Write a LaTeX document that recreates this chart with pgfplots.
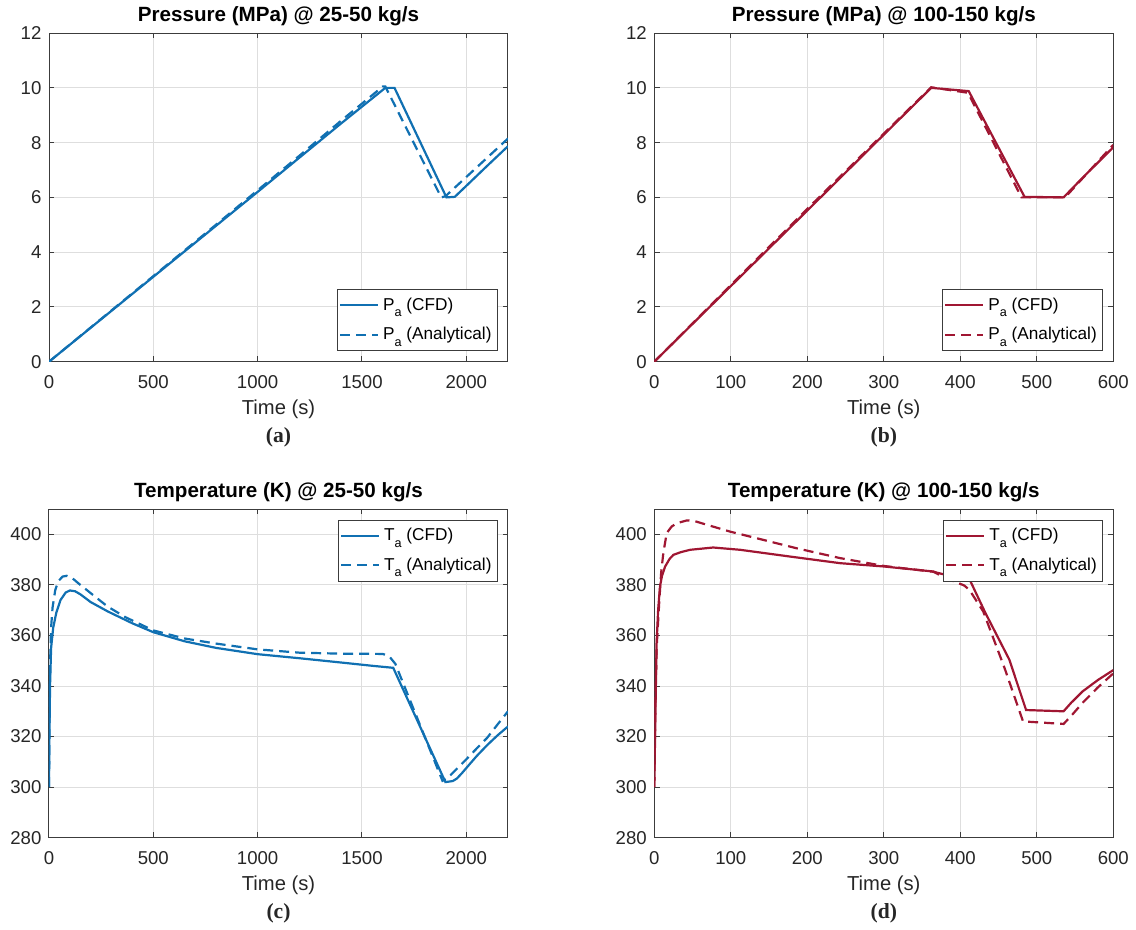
\documentclass[border=0pt]{standalone}
\usepackage{fontspec}
\setmainfont{Liberation Sans}
\newfontfamily\serifbf{Liberation Serif}
\usepackage{pgfplots}
\pgfplotsset{compat=1.18}

\definecolor{mblue}{RGB}{16,112,178}
\definecolor{mred}{RGB}{160,22,50}
\definecolor{gridc}{RGB}{222,222,222}
\definecolor{axc}{RGB}{60,60,60}
\definecolor{txc}{RGB}{38,38,38}

\newcommand{\sub}[1]{\raisebox{-0.38em}{\fontsize{6.3}{7}\selectfont #1}}

\pgfplotsset{
  every axis title shift=0pt,
  myaxis/.style={
    scale only axis, width=229.5pt, height=164.3pt,
    anchor=south west,
    axis line style={axc, line width=0.5pt},
    every tick/.style={axc, line width=0.5pt},
    major tick length=2.6pt,
    tick align=inside,
    grid=major,
    major grid style={gridc, line width=0.5pt},
    /pgf/number format/assume math mode=true,
    /pgf/number format/1000 sep={},
    tick label style={font=\fontsize{9.3}{11}\selectfont, text=txc},
    xticklabel style={anchor=center, yshift=-10pt},
    yticklabel style={anchor=east, inner sep=0pt, xshift=-3.6pt},
    title style={at={(0.5,1)}, anchor=center, yshift=8.4pt, font=\bfseries\fontsize{10.3}{12}\selectfont},
    xlabel style={at={(axis description cs:0.5,0)}, anchor=center, yshift=-23.8pt, font=\fontsize{10.1}{12}\selectfont, text=txc},
    xlabel={Time (s)},
    legend style={draw=axc, line width=0.5pt, fill=white, font=\fontsize{8.6}{10}\selectfont, text=black,
      inner xsep=0.8pt, inner ysep=2pt, row sep=3pt, cells={anchor=west, inner xsep=1pt}},
    legend image code/.code={\draw[#1] (0pt,0pt) -- (19pt,0pt);},
  },
  cfd/.style={line width=1.1pt, solid},
  ana/.style={line width=1.1pt, dash pattern=on 5pt off 3pt},
  legbot/.style={legend style={at={(1,0)}, anchor=south east, xshift=-5.2pt, yshift=5.3pt}},
  legtop/.style={legend style={at={(1,1)}, anchor=north east, xshift=-5.2pt, yshift=-5.3pt}},
  pres/.style={ymin=0, ymax=12, ytick={0,2,...,12}},
  temp/.style={ymin=280, ymax=410, ytick={280,300,...,400}},
  longx/.style={xmin=0, xmax=2200, xtick={0,500,...,2000}},
  shortx/.style={xmin=0, xmax=600, xtick={0,100,...,600}},
}

\begin{document}
\begin{tikzpicture}
\path[use as bounding box] (0,0) rectangle (568pt,465pt);

% (a)
\begin{axis}[myaxis, pres, longx, legbot, name=pa, at={(24.5pt,284.15pt)},
  title={Pressure (MPa) @ 25-50 kg/s}]
\addplot[mblue, cfd] coordinates {(0,0) (200,1.24) (400,2.48) (600,3.72) (800,4.96) (1000,6.2) (1200,7.45) (1400,8.7) (1612,10.0) (1656,10.0) (1905,6.0) (1945,6.02) (2000,6.42) (2100,7.15) (2200,7.87)};
\addlegendentry{P\sub{a} (CFD)}
\addplot[mblue, ana] coordinates {(0,0) (400,2.5) (800,5.0) (1200,7.52) (1400,8.8) (1600,10.05) (1612,10.05) (1880,6.0) (1900,6.04) (2200,8.15)};
\addlegendentry{P\sub{a} (Analytical)}
\end{axis}
\node[font=\serifbf\bfseries\fontsize{10.8}{12}\selectfont, text=txc] at ([yshift=-38pt]pa.south) {(a)};

% (b)
\begin{axis}[myaxis, pres, shortx, legbot, name=pb, at={(327.15pt,284.15pt)},
  title={Pressure (MPa) @ 100-150 kg/s}]
\addplot[mred, cfd] coordinates {(0,0) (100,2.76) (200,5.52) (300,8.29) (362,10.0) (411,9.88) (484,6.02) (535,6.0) (560,6.72) (600,7.83)};
\addlegendentry{P\sub{a} (CFD)}
\addplot[mred, ana] coordinates {(0,0) (100,2.8) (200,5.58) (300,8.33) (362,10.02) (410,9.82) (480,6.0) (537,6.0) (600,7.92)};
\addlegendentry{P\sub{a} (Analytical)}
\end{axis}
\node[font=\serifbf\bfseries\fontsize{10.8}{12}\selectfont, text=txc] at ([yshift=-38pt]pb.south) {(b)};

% (c)
\begin{axis}[myaxis, temp, longx, legtop, name=pc, at={(24.5pt,46.15pt)},
  title={Temperature (K) @ 25-50 kg/s}]
\addplot[mblue, cfd] coordinates {(0,300) (2,320) (5,340) (10,355) (20,363) (35,369) (55,374) (80,377) (100,377.8) (125,377.5) (150,376.3) (200,373.2) (282,369.5) (400,364.8) (500,361.3) (650,357.7) (800,355.1) (1000,352.6) (1200,351.0) (1400,349.3) (1550,348.0) (1650,347.2) (1900,302) (1935,302.4) (1955,303.4) (1980,305.6) (2010,308.5) (2050,312.3) (2100,316.6) (2150,320.5) (2200,324)};
\addlegendentry{T\sub{a} (CFD)}
\addplot[mblue, ana] coordinates {(0,300) (2,325) (5,348) (10,363) (17,371) (30,378) (45,381.5) (65,383.3) (85,383.6) (110,382.8) (140,380.7) (196,377) (280,371.5) (367,367.2) (500,362) (650,358.8) (800,356.8) (1000,354.5) (1200,353.2) (1400,352.8) (1600,352.7) (1630,351.8) (1660,348.8) (1886,302.5) (1905,303.3) (1930,305.2) (1960,307.7) (2000,311) (2050,315.3) (2100,319.5) (2150,324.8) (2200,330)};
\addlegendentry{T\sub{a} (Analytical)}
\end{axis}
\node[font=\serifbf\bfseries\fontsize{10.8}{12}\selectfont, text=txc] at ([yshift=-38pt]pc.south) {(c)};

% (d)
\begin{axis}[myaxis, temp, shortx, legtop, name=pd, at={(327.15pt,46.15pt)},
  title={Temperature (K) @ 100-150 kg/s}]
\addplot[mred, cfd] coordinates {(0,300) (1.5,330) (3,357) (5,370) (7.4,379.3) (10,383.5) (14,387.2) (20,390.3) (25,391.9) (35,393) (47,393.9) (77,394.8) (112,393.9) (178,391.2) (243,388.6) (300,387.3) (365,385.3) (370,384.8) (413,381.6) (433,368.8) (464,350.5) (486,330.5) (535,330) (545,333.4) (560,337.9) (580,342.4) (600,346.3)};
\addlegendentry{T\sub{a} (CFD)}
\addplot[mred, ana] coordinates {(0,300) (1.5,335) (3.1,355.5) (6.6,374) (9,385) (11.8,392.6) (16.2,400.5) (22.7,403.1) (29.3,404.4) (42.4,405.5) (51,405.4) (68.6,403.8) (99,401.1) (142.7,397.8) (186,394.5) (243,390.6) (300,387.5) (365,385.2) (380,382.8) (405,379.8) (412,378) (430,369.5) (458,347) (482,326) (535,325) (545,328.2) (560,333.4) (580,339.5) (600,345)};
\addlegendentry{T\sub{a} (Analytical)}
\end{axis}
\node[font=\serifbf\bfseries\fontsize{10.8}{12}\selectfont, text=txc] at ([yshift=-38pt]pd.south) {(d)};
\end{tikzpicture}
\end{document}
